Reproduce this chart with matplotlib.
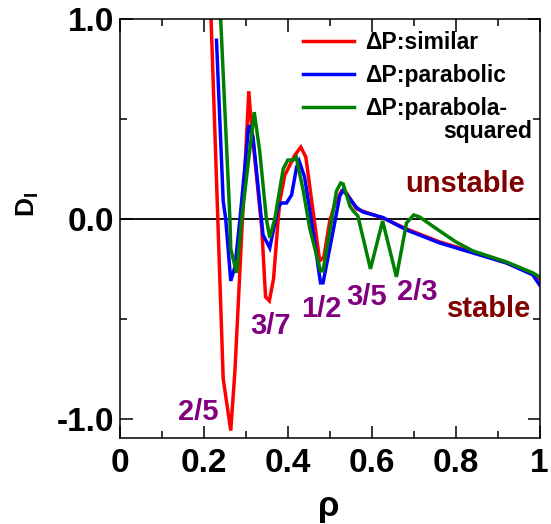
import matplotlib
matplotlib.use("Agg")
import matplotlib.pyplot as plt
from matplotlib.ticker import FixedLocator, FixedFormatter, NullFormatter

plt.rcParams["font.family"] = ["Liberation Sans", "DejaVu Sans"]
plt.rcParams["font.weight"] = "bold"
plt.rcParams["mathtext.fontset"] = "custom"
plt.rcParams["mathtext.rm"] = "Liberation Sans:bold"
plt.rcParams["mathtext.bf"] = "Liberation Sans:bold"
plt.rcParams["mathtext.it"] = "Liberation Sans:bold"

# D_I versus normalized radius for three pressure-profile models
rho_similar = [0.2155, 0.246, 0.264, 0.274, 0.307, 0.312, 0.338, 0.347, 0.356, 0.366,
               0.376, 0.381, 0.393, 0.417, 0.431, 0.443, 0.476, 0.486, 0.500, 0.512,
               0.528, 0.540, 0.564, 0.595, 0.627, 0.683, 0.762, 0.841, 0.921, 0.984, 1.0]
D_similar = [1.10, -0.80, -1.06, -0.76, 0.64, 0.50, -0.05, -0.39, -0.41, -0.30,
             -0.03, 0.09, 0.22, 0.32, 0.36, 0.31, -0.21, -0.19, -0.01, 0.074,
             0.14, 0.13, 0.05, 0.027, 0.005, -0.05, -0.115, -0.165, -0.22, -0.275, -0.30]

rho_parabolic = [0.230, 0.246, 0.252, 0.264, 0.274, 0.286, 0.307, 0.317, 0.341, 0.357,
                 0.377, 0.385, 0.397, 0.409, 0.421, 0.427, 0.440, 0.460, 0.478, 0.484,
                 0.508, 0.524, 0.532, 0.564, 0.579, 0.627, 0.683, 0.762, 0.841, 0.921,
                 0.984, 1.0]
D_parabolic = [0.895, 0.09, 0.0, -0.31, -0.24, 0.0, 0.47, 0.41, -0.08, -0.145,
               0.06, 0.08, 0.08, 0.12, 0.26, 0.29, 0.21, -0.06, -0.32, -0.32,
               -0.06, 0.115, 0.145, 0.057, 0.035, 0.007, -0.055, -0.12, -0.17, -0.22,
               -0.28, -0.33]

rho_squared = [0.2378, 0.262, 0.264, 0.278, 0.290, 0.320, 0.333, 0.349, 0.357, 0.369,
               0.389, 0.400, 0.413, 0.420, 0.437, 0.452, 0.478, 0.484, 0.504, 0.516,
               0.526, 0.532, 0.548, 0.556, 0.567, 0.597, 0.626, 0.659, 0.683, 0.700,
               0.714, 0.762, 0.800, 0.841, 0.921, 0.984, 1.0]
D_squared = [1.10, 0.0, -0.15, -0.27, 0.0, 0.535, 0.34, 0.0, -0.094, 0.0,
             0.25, 0.295, 0.295, 0.31, 0.14, -0.044, -0.26, -0.26, -0.01, 0.14,
             0.18, 0.175, 0.065, 0.04, 0.015, -0.25, -0.01, -0.29, -0.02, 0.02,
             0.01, -0.06, -0.114, -0.16, -0.215, -0.27, -0.29]

series_labels = ["\u0394P:similar", "\u0394P:parabolic", "\u0394P:parabola-"]
series_colors = ["#ff0000", "#0000ff", "#008000"]

# rational-surface labels and their positions (rho, D_I at text baseline)
fraction_text = ["2/5", "3/7", "1/2", "3/5", "2/3"]
fraction_rho = [0.187, 0.358, 0.479, 0.588, 0.708]
fraction_D = [-1.009, -0.576, -0.491, -0.431, -0.406]

x_major = [0.0, 0.2, 0.4, 0.6, 0.8, 1.0]
x_major_labels = ["0", "0.2", "0.4", "0.6", "0.8", "1"]
x_minor = [0.1, 0.3, 0.5, 0.7, 0.9]
y_major = [-1.0, 0.0, 1.0]
y_major_labels = ["-1.0", "0.0", "1.0"]
y_minor = [-0.5, 0.5]

W, H = 551, 524
fig = plt.figure(figsize=(W / 100, H / 100), dpi=100)
ax = fig.add_axes([120 / W, 1 - 438 / H, 419.5 / W, 418.7 / H])

handles = []
for rho, d, c, lab in zip([rho_similar, rho_parabolic, rho_squared],
                          [D_similar, D_parabolic, D_squared],
                          series_colors, series_labels):
    h, = ax.plot(rho, d, color=c, lw=2.5, label=lab, solid_joinstyle="miter")
    handles.append(h)

ax.axhline(0.0, color="black", lw=1.3, zorder=1)

ax.set_xlim(0, 1)
ax.set_ylim(-1.097, 1.0)

ax.xaxis.set_major_locator(FixedLocator(x_major))
ax.xaxis.set_major_formatter(FixedFormatter(x_major_labels))
ax.xaxis.set_minor_locator(FixedLocator(x_minor))
ax.xaxis.set_minor_formatter(NullFormatter())
ax.yaxis.set_major_locator(FixedLocator(y_major))
ax.yaxis.set_major_formatter(FixedFormatter(y_major_labels))
ax.yaxis.set_minor_locator(FixedLocator(y_minor))
ax.yaxis.set_minor_formatter(NullFormatter())

ax.tick_params(which="both", direction="in", top=True, right=True, width=1.1)
ax.tick_params(which="major", length=9)
ax.tick_params(which="minor", length=5)
ax.tick_params(axis="x", which="major", labelsize=24, pad=7)
ax.tick_params(axis="y", which="major", labelsize=24, pad=4.5)
for s in ax.spines.values():
    s.set_linewidth(1.1)

ax.set_xlabel("\u03c1", fontsize=25, fontweight="bold")
ax.xaxis.set_label_coords(0.498, -0.124)
ax.set_ylabel(r"D$_\mathrm{I}$", fontsize=19, fontweight="bold")
ax.yaxis.set_label_coords(-0.188, 0.559)

for t, x, y in zip(fraction_text, fraction_rho, fraction_D):
    ax.text(x, y, t, color="#800080", fontsize=21, fontweight="bold",
            ha="center", va="baseline")

ax.text(0.822, 0.135, "unstable", color="#800000", fontsize=21,
        fontweight="bold", ha="center", va="baseline")
ax.text(0.881, -0.491, "stable", color="#800000", fontsize=21,
        fontweight="bold", ha="center", va="baseline")

leg = ax.legend(handles=handles, labels=series_labels, loc="upper left",
                bbox_to_anchor=(302.7 / W, 1 - 31 / H),
                bbox_transform=fig.transFigure, frameon=False,
                borderpad=0, borderaxespad=0, handlelength=2.25,
                handletextpad=0.48, labelspacing=0.43,
                prop={"size": 16.5, "weight": "bold"})
fig.text(443.3 / W, 1 - 138 / H, "squared", fontsize=16.5, fontweight="bold",
         ha="left", va="baseline")

fig.savefig("out.png", dpi=100)
